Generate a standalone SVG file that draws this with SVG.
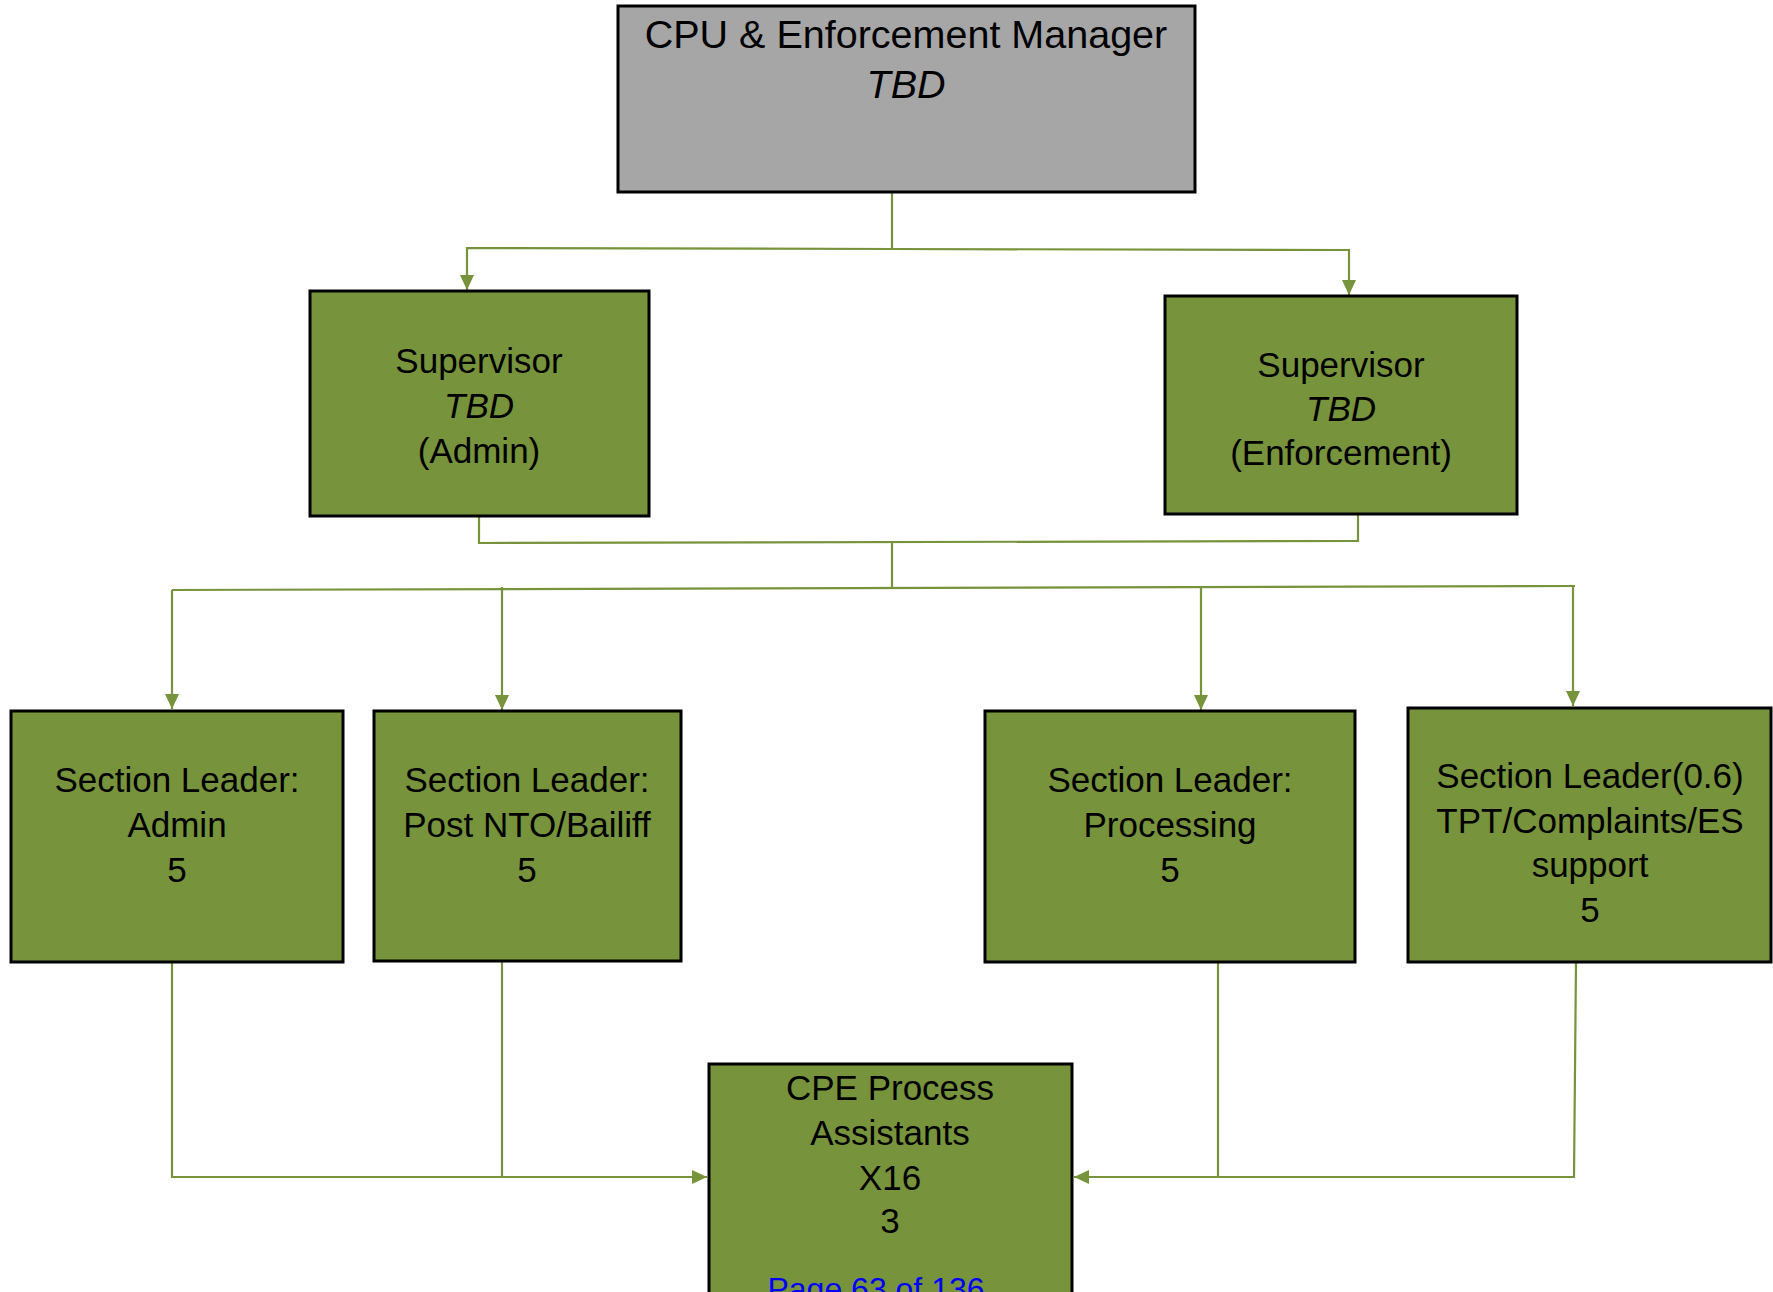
<svg xmlns="http://www.w3.org/2000/svg" width="1773" height="1292" viewBox="0 0 1773 1292">
  <style>
    .box { fill: #77933c; stroke: #000; stroke-width: 3; }
    .grey { fill: #a6a6a6; stroke: #000; stroke-width: 3; }
    .t { font-family: "Liberation Sans", Arial, sans-serif; font-size: 35px; fill: #000; text-anchor: middle; }
    .big { font-size: 39.5px; }
    .it { font-style: italic; }
    .link { fill: none; stroke: #77933c; stroke-width: 2.2; }
    .page { font-family: "Liberation Sans", Arial, sans-serif; font-size: 32px; fill: #0000ff; text-anchor: middle; }
  </style>
  <defs>
    <marker id="arr" viewBox="0 0 15 14" refX="15" refY="7" markerWidth="15" markerHeight="14" markerUnits="userSpaceOnUse" orient="auto">
      <path d="M0,0 L15,7 L0,14 Z" fill="#77933c"/>
    </marker>
  </defs>

  <rect width="1773" height="1292" fill="#fff"/>

  <!-- connectors -->
  <g id="connectors">
    <!-- manager to supervisors -->
    <path class="link" d="M892,192 L892,249"/>
    <path class="link" d="M892,249 L467,248 L467,290" marker-end="url(#arr)"/>
    <path class="link" d="M892,249 L1349,250 L1349,295" marker-end="url(#arr)"/>
    <!-- supervisors to section leaders -->
    <path class="link" d="M479,516 L479,543 L1358,541 L1358,514"/>
    <path class="link" d="M892,542 L892,588"/>
    <path class="link" d="M172,590 L1575,586"/>
    <path class="link" d="M172,590 L172,709" marker-end="url(#arr)"/>
    <path class="link" d="M502,587 L502,710" marker-end="url(#arr)"/>
    <path class="link" d="M1201,587 L1201,710" marker-end="url(#arr)"/>
    <path class="link" d="M1573,586 L1573,706" marker-end="url(#arr)"/>
    <!-- section leaders to assistants -->
    <path class="link" d="M172,962 L172,1177 L707,1177" marker-end="url(#arr)"/>
    <path class="link" d="M502,961 L502,1177"/>
    <path class="link" d="M1576,962 L1574,1177 L1074,1177" marker-end="url(#arr)"/>
    <path class="link" d="M1218,962 L1218,1177"/>
  </g>

  <g id="manager">
    <rect class="grey" x="618" y="6" width="577" height="186"/>
    <text class="t big" x="906" y="48">CPU &amp; Enforcement Manager</text>
    <text class="t big it" x="906" y="98">TBD</text>
  </g>

  <g id="supervisor-admin">
    <rect class="box" x="310" y="291" width="339" height="225"/>
    <text class="t" x="479" y="373">Supervisor</text>
    <text class="t it" x="479" y="418">TBD</text>
    <text class="t" x="479" y="463">(Admin)</text>
  </g>

  <g id="supervisor-enforcement">
    <rect class="box" x="1165" y="296" width="352" height="218"/>
    <text class="t" x="1341" y="377">Supervisor</text>
    <text class="t it" x="1341" y="421">TBD</text>
    <text class="t" x="1341" y="465">(Enforcement)</text>
  </g>

  <g id="leader-admin">
    <rect class="box" x="11" y="711" width="332" height="251"/>
    <text class="t" x="177" y="792">Section Leader:</text>
    <text class="t" x="177" y="837">Admin</text>
    <text class="t" x="177" y="882">5</text>
  </g>

  <g id="leader-bailiff">
    <rect class="box" x="374" y="711" width="307" height="250"/>
    <text class="t" x="527" y="792">Section Leader:</text>
    <text class="t" x="527" y="837">Post NTO/Bailiff</text>
    <text class="t" x="527" y="882">5</text>
  </g>

  <g id="leader-processing">
    <rect class="box" x="985" y="711" width="370" height="251"/>
    <text class="t" x="1170" y="792">Section Leader:</text>
    <text class="t" x="1170" y="837">Processing</text>
    <text class="t" x="1170" y="882">5</text>
  </g>

  <g id="leader-tpt">
    <rect class="box" x="1408" y="708" width="363" height="254"/>
    <text class="t" x="1590" y="788">Section Leader(0.6)</text>
    <text class="t" x="1590" y="833">TPT/Complaints/ES</text>
    <text class="t" x="1590" y="877">support</text>
    <text class="t" x="1590" y="922">5</text>
  </g>

  <g id="assistants">
    <rect class="box" x="709" y="1064" width="363" height="240"/>
    <text class="t" x="890" y="1100">CPE Process</text>
    <text class="t" x="890" y="1145">Assistants</text>
    <text class="t" x="890" y="1190">X16</text>
    <text class="t" x="890" y="1233">3</text>
    <!-- page footer runs off the bottom edge of the sheet -->
    <text class="page" x="876" y="1300">Page 63 of 136</text>
  </g>
</svg>
